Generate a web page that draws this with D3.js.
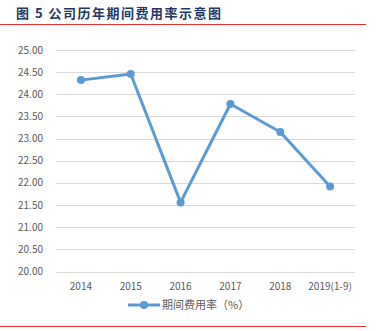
<!DOCTYPE html>
<html>
<head>
<meta charset="utf-8">
<script src="https://cdn.jsdelivr.net/npm/d3@7"></script>
<style>
  html, body { margin: 0; padding: 0; background: #fff; }
  svg { display: block; }
  .tick-label { font-family: "Noto Sans CJK SC", "DejaVu Sans", sans-serif; font-size: 10px; fill: #595959; }
</style>
</head>
<body>
<svg id="chart" width="379" height="331"></svg>
<script>
const title = "图 5 公司历年期间费用率示意图";
const years = ["2014", "2015", "2016", "2017", "2018", "2019(1-9)"];
const rates = [24.32, 24.46, 21.56, 23.78, 23.15, 21.92];
const yTicks = [20, 20.5, 21, 21.5, 22, 22.5, 23, 23.5, 24, 24.5, 25];
const seriesName = "期间费用率（%）";

const svg = d3.select("#chart");
const color = "#5b9bd5";

// title + rules
svg.append("text")
  .attr("x", 16).attr("y", 18)
  .attr("font-family", "'Noto Sans CJK SC', sans-serif")
  .attr("font-weight", "bold")
  .attr("font-size", 13)
  .attr("letter-spacing", 1.5)
  .attr("fill", "#1f3864")
  .text(title);

svg.append("line")
  .attr("x1", 0).attr("x2", 366).attr("y1", 24.5).attr("y2", 24.5)
  .attr("stroke", "#e8302e").attr("stroke-width", 1);

svg.append("line")
  .attr("x1", 0).attr("x2", 366).attr("y1", 326.5).attr("y2", 326.5)
  .attr("stroke", "#e8302e").attr("stroke-width", 1);

const plot = { left: 56, right: 355, top: 50, bottom: 271.5 };

const x = d3.scalePoint()
  .domain(years)
  .range([plot.left, plot.right])
  .padding(0.5);

const y = d3.scaleLinear()
  .domain([20, 25])
  .range([plot.bottom, plot.top]);

// gridlines
svg.append("g")
  .selectAll("line")
  .data(yTicks)
  .join("line")
  .attr("x1", plot.left).attr("x2", plot.right)
  .attr("y1", d => Math.round(y(d)) + 0.5)
  .attr("y2", d => Math.round(y(d)) + 0.5)
  .attr("stroke", "#d9d9d9").attr("stroke-width", 1);

// y labels
svg.append("g")
  .selectAll("text")
  .data(yTicks)
  .join("text")
  .attr("class", "tick-label")
  .attr("x", 43)
  .attr("y", d => y(d))
  .attr("dy", "0.35em")
  .attr("text-anchor", "end")
  .text(d => d.toFixed(2));

// x labels
svg.append("g")
  .selectAll("text")
  .data(years)
  .join("text")
  .attr("class", "tick-label")
  .attr("x", d => x(d))
  .attr("y", 290)
  .attr("text-anchor", "middle")
  .text(d => d);

// line + markers
const line = d3.line()
  .x((d, i) => x(years[i]))
  .y(d => y(d));

svg.append("path")
  .datum(rates)
  .attr("d", line)
  .attr("fill", "none")
  .attr("stroke", color)
  .attr("stroke-width", 3)
  .attr("stroke-linejoin", "round");

svg.append("g")
  .selectAll("circle")
  .data(rates)
  .join("circle")
  .attr("cx", (d, i) => x(years[i]))
  .attr("cy", d => y(d))
  .attr("r", 4)
  .attr("fill", color);

// legend
const legend = svg.append("g").attr("transform", "translate(128,305)");
legend.append("line")
  .attr("x1", 0).attr("x2", 32).attr("y1", 0).attr("y2", 0)
  .attr("stroke", color).attr("stroke-width", 3);
legend.append("circle")
  .attr("cx", 16).attr("cy", 0).attr("r", 4).attr("fill", color);
legend.append("text")
  .attr("class", "tick-label")
  .attr("x", 34).attr("y", 0).attr("dy", "0.35em")
  .attr("font-size", 11)
  .style("font-size", "11px")
  .text(seriesName);
</script>
</body>
</html>
